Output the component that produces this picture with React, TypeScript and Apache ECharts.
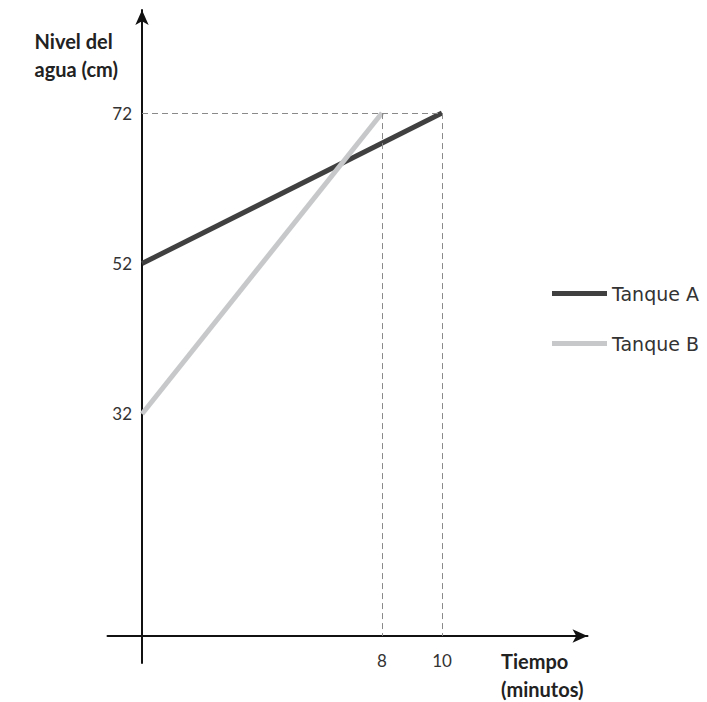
import React, { useEffect, useRef } from "react";
import * as echarts from "echarts";

const seriesNames = ["Tanque A", "Tanque B"];
const tanqueA: [number, number][] = [[0, 52], [10, 72]];
const tanqueB: [number, number][] = [[0, 32], [8, 72]];
const yTickValues = [32, 52, 72];
const xTickValues = [8, 10];
const xAxisLevel = 2.5; // y value where the horizontal axis is drawn
const yAxisTitle = "Nivel del\nagua (cm)";
const xAxisTitle = "Tiempo\n(minutos)";

const FONT = "Lato, 'Noto Sans', sans-serif";
const WIDE_FONT = "'DejaVu Sans', Lato, sans-serif";

export default function App() {
  const ref = useRef<HTMLDivElement>(null);
  useEffect(() => {
    if (!ref.current) return;
    document.body.style.margin = "0";
    const chart = echarts.init(ref.current, undefined, { renderer: "svg" });
    const dash = { type: [6, 4], color: "#8a8a8a", width: 1 };
    chart.setOption({
      animation: false,
      backgroundColor: "#ffffff",
      grid: { left: 107.5, top: 10, width: 480, height: 653, containLabel: false },
      xAxis: {
        type: "value",
        min: -1.15,
        max: 14.85,
        splitLine: { show: false },
        axisTick: { show: false },
        offset: -27,
        axisLine: {
          onZero: false,
          show: true,
          symbol: ["none", "arrow"],
          symbolSize: [10, 15],
          lineStyle: { color: "#111", width: 2 },
        },
        axisLabel: {
          customValues: xTickValues,
          margin: 16,
          fontSize: 17,
          color: "#333",
          fontFamily: FONT,
        },
      },
      yAxis: {
        type: "value",
        min: -1.1,
        max: 85.7,
        splitLine: { show: false },
        axisTick: { show: false },
        axisLine: {
          onZero: true,
          show: true,
          symbol: ["none", "arrow"],
          symbolSize: [10, 15],
          lineStyle: { color: "#111", width: 2 },
        },
        axisLabel: {
          customValues: yTickValues,
          margin: -24.5,
          fontSize: 17,
          color: "#333",
          fontFamily: FONT,
        },
      },
      legend: {
        orient: "vertical",
        left: 547,
        top: 279,
        itemWidth: 55,
        itemHeight: 5,
        itemGap: 31,
        icon: "rect",
        data: seriesNames,
        textStyle: { fontSize: 19, color: "#333", fontFamily: WIDE_FONT },
      },
      series: [
        {
          name: seriesNames[0],
          type: "line",
          data: tanqueA,
          symbol: "none",
          color: "#404040",
          lineStyle: { width: 5, color: "#404040" },
          z: 3,
          markLine: {
            silent: true,
            symbol: "none",
            label: { show: false },
            lineStyle: dash,
            data: [
              [{ coord: [tanqueA[0][0], tanqueA[1][1]] }, { coord: [tanqueA[1][0], tanqueA[1][1]] }],
              [{ coord: [tanqueA[1][0], tanqueA[1][1]] }, { coord: [tanqueA[1][0], xAxisLevel] }],
              [{ coord: [tanqueB[1][0], tanqueB[1][1]] }, { coord: [tanqueB[1][0], xAxisLevel] }],
            ],
          },
        },
        {
          name: seriesNames[1],
          type: "line",
          data: tanqueB,
          symbol: "none",
          color: "#c6c8ca",
          lineStyle: { width: 5, color: "#c6c8ca" },
          z: 4,
        },
      ],
      graphic: [
        {
          type: "text",
          right: 707 - 118,
          top: 27,
          style: {
            text: yAxisTitle,
            fontSize: 20,
            fontWeight: "bold",
            fontFamily: FONT,
            fill: "#222",
            align: "right",
            lineHeight: 28,
          },
        },
        {
          type: "text",
          left: 501,
          top: 647,
          style: {
            text: xAxisTitle,
            fontSize: 20,
            fontWeight: "bold",
            fontFamily: FONT,
            fill: "#222",
            align: "center",
            lineHeight: 28,
          },
        },
      ],
    });
    return () => chart.dispose();
  }, []);
  return <div ref={ref} style={{ width: 707, height: 702 }} />;
}
